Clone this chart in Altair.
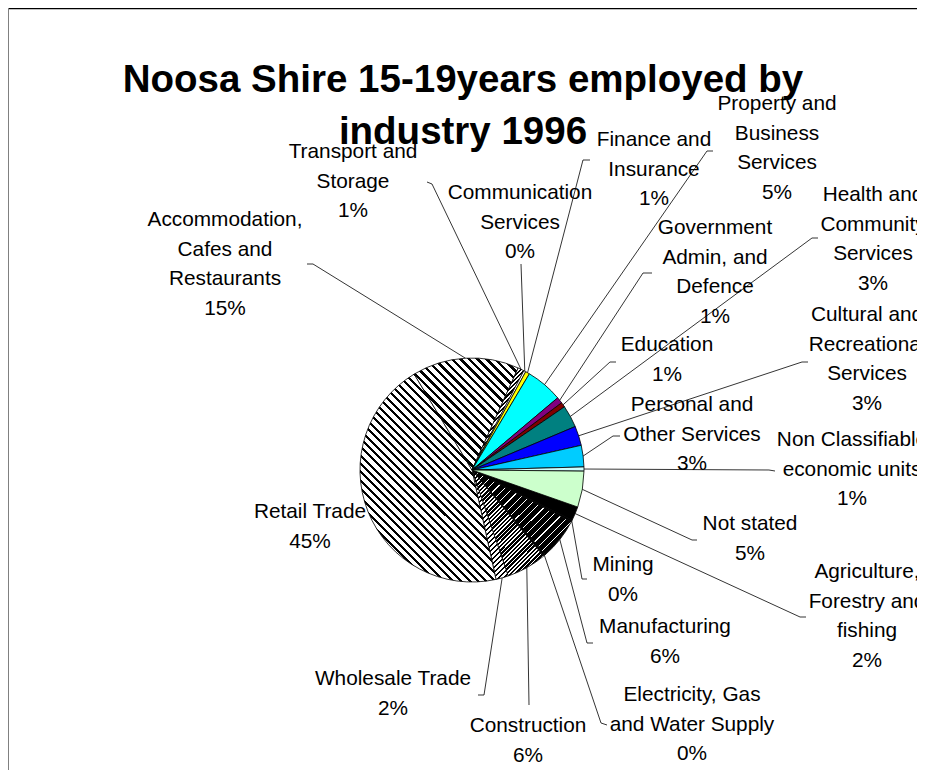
import math
import altair as alt

# ---------------- data ----------------
title_lines = ["Noosa Shire 15-19years employed by", "industry 1996"]
categories = [
    "Agriculture,\nForestry and\nfishing",
    "Mining",
    "Manufacturing",
    "Electricity, Gas\nand Water Supply",
    "Construction",
    "Wholesale Trade",
    "Retail Trade",
    "Accommodation,\nCafes and\nRestaurants",
    "Transport and\nStorage",
    "Communication\nServices",
    "Finance and\nInsurance",
    "Property and\nBusiness\nServices",
    "Government\nAdmin, and\nDefence",
    "Education",
    "Health and\nCommunity\nServices",
    "Cultural and\nRecreational\nServices",
    "Personal and\nOther Services",
    "Non Classifiable\neconomic units",
    "Not stated",
]
shares = [2.0, 0.3, 6.0, 0.3, 5.8, 1.8, 44.8, 15.4, 0.9, 0.3, 0.6,
          5.3, 0.9, 0.7, 3.2, 2.8, 3.1, 0.6, 5.2]

# ---------------- layout / style ----------------
W, H = 909, 762
R = 112
CX, CY = 464, 462                     # pie centre inside the view (px)
START_DEG = 109.3                     # angle of first slice (clockwise from 12 o'clock)
OFF = math.radians(START_DEG)
FONT = "Liberation Sans"
LINE = 29.5

title_pos = [(-9, -390), (-9, -338)]
# label block (centre x, first line y) relative to the pie centre
label_pos = [
    (395, 102), (151, 95), (193, 157), (220, 225), (56, 256), (-79, 209),
    (-162, 42), (-247, -250), (-119, -318), (48, -277), (182, -330),
    (305, -366), (243, -242), (195, -125), (401, -275), (395, -155),
    (220, -65), (380, -30), (278, 54),
]
# leader elbow and tick end relative to pie centre (None = none)
leaders = [
    ((328, 147), (334, 147)), ((110, 109), (115, 109)), ((115, 173), (121, 173)),
    ((129, 253), (135, 255)), ((57, 235), None), ((12, 225), (6, 225)),
    (None, None), ((-159, -206), (-165, -206)), ((-40, -286), (-45, -288)),
    ((49, -206), None), ((111, -310), (118, -310)), ((235, -319), (241, -319)),
    ((171, -197), (180, -197)), ((138, -108), (144, -108)), ((340, -232), (346, -232)),
    ((330, -108), (336, -108)), ((141, -34), (148, -34)), ((297, 0), (303, 1)),
    ((220, 70), (225, 70)),
]


def stripes(w, h, d, period, frac, ink="#000000", paper="#ffffff"):
    dx, dy = d
    gx, gy = dy / h, -dx / w
    n = math.hypot(gx, gy)
    gx, gy = gx / n, gy / n
    L = 0.5 * (abs(gx) + abs(gy))
    x1, y1 = 0.5 - L * gx, 0.5 - L * gy
    x2, y2 = 0.5 + L * gx, 0.5 + L * gy
    dl = math.hypot(dx, dy)
    nx, ny = dy / dl, -dx / dl
    D = abs(2 * L * (gx * w * nx + gy * h * ny))
    count = max(1, round(D / period))
    stops = []
    for k in range(count):
        a, b, c = k / count, (k + frac) / count, (k + 1) / count
        stops += [{"offset": a, "color": ink}, {"offset": b, "color": ink},
                  {"offset": b, "color": paper}, {"offset": c, "color": paper}]
    return {"gradient": "linear", "x1": x1, "y1": y1, "x2": x2, "y2": y2, "stops": stops}


fills = [
    "#000000",
    "#000000",
    stripes(99, 85, (1, -1), 6, 0.85),
    "#000000",
    stripes(72, 106, (1, -1), 3, 0.6),
    stripes(36, 109, (1, -1), 3.5, 0.4),
    stripes(136, 208, (1, 1), 6, 0.36),
    stripes(104, 112, (1, 1), 6, 0.4),
    stripes(52, 102, (1, -1), 3, 0.5),
    "#ffffff",
    "#ffff00",
    "#00ffff",
    "#800080",
    "#800000",
    "#008080",
    "#0000ff",
    "#00ccff",
    "#ccffff",
    "#ccffcc",
]

slice_rows = []
for i, (c, v) in enumerate(zip(categories, shares)):
    e, t = leaders[i]
    slice_rows.append({
        "idx": i, "category": c.replace("\n", " "), "share": v, "fill": fills[i],
        "ex": e[0] if e else None, "ey": e[1] if e else None,
        "tx": t[0] if t else None, "ty": t[1] if t else None,
    })

text_rows = []
for i, (c, v) in enumerate(zip(categories, shares)):
    lines = c.split("\n") + [f"{round(v)}%"]
    lx, ly = label_pos[i]
    for j, ln in enumerate(lines):
        text_rows.append({"t": ln, "x": lx, "y": ly + j * LINE})

title_rows = [{"t": t, "x": p[0], "y": p[1]} for t, p in zip(title_lines, title_pos)]

xs = alt.Scale(domain=[-CX, W - CX], nice=False, zero=False)
ys = alt.Scale(domain=[-CY, H - CY], nice=False, zero=False, reverse=True)

slices = alt.Data(values=slice_rows)
base = alt.Chart(slices).transform_window(
    cum="sum(share)", sort=[alt.SortField("idx")]
).transform_calculate(
    start="datum.cum - datum.share",
    ang=f"{OFF} + (datum.cum - datum.share / 2) / 100 * 2 * PI",
    rx=f"{R} * sin(datum.ang)",
    ry=f"-{R} * cos(datum.ang)",
)

pie = base.mark_arc(outerRadius=R, stroke="#000000", strokeWidth=0.8).encode(
    x=alt.X(datum=0, type="quantitative", scale=xs, axis=None),
    y=alt.Y(datum=0, type="quantitative", scale=ys, axis=None),
    theta=alt.Theta("start:Q", stack=None,
                    scale=alt.Scale(domain=[0, 100], range=[OFF, OFF + 2 * math.pi])),
    theta2="cum:Q",
    fill=alt.Fill("fill:N", scale=None, legend=None),
    order=alt.Order("idx:Q"),
)

lead = base.transform_filter("isValid(datum.ex)").mark_rule(
    color="#000000", strokeWidth=0.8
).encode(
    x=alt.X("rx:Q", scale=xs, axis=None),
    y=alt.Y("ry:Q", scale=ys, axis=None),
    x2="ex:Q",
    y2="ey:Q",
)

tick = base.transform_filter("isValid(datum.tx)").mark_rule(
    color="#000000", strokeWidth=0.8
).encode(
    x=alt.X("ex:Q", scale=xs, axis=None),
    y=alt.Y("ey:Q", scale=ys, axis=None),
    x2="tx:Q",
    y2="ty:Q",
)

labels = alt.Chart(alt.Data(values=text_rows)).mark_text(
    font=FONT, fontSize=20.8, baseline="middle", align="center", color="#000000"
).encode(
    x=alt.X("x:Q", scale=xs, axis=None),
    y=alt.Y("y:Q", scale=ys, axis=None),
    text="t:N",
)

title = alt.Chart(alt.Data(values=title_rows)).mark_text(
    font=FONT, fontSize=38.5, fontWeight="bold", baseline="middle", align="center",
    color="#000000"
).encode(
    x=alt.X("x:Q", scale=xs, axis=None),
    y=alt.Y("y:Q", scale=ys, axis=None),
    text="t:N",
)

frame_data = alt.Data(values=[{"k": 1}])
top_line = alt.Chart(frame_data).mark_rule(color="#000000", strokeWidth=1.5).encode(
    x=alt.value(0), x2=alt.value(W), y=alt.value(0.5)
)
left_line = alt.Chart(frame_data).mark_rule(color="#808080", strokeWidth=2).encode(
    x=alt.value(0), y=alt.value(0), y2=alt.value(H)
)

chart = alt.layer(pie, lead, tick, labels, title, top_line, left_line).properties(
    width=W,
    height=H,
    padding=0,
    autosize=alt.AutoSizeParams(type="none"),
).configure_view(stroke=None).configure(background="#ffffff")

chart.save("out.html", embed_options={"renderer": "svg", "actions": False})
